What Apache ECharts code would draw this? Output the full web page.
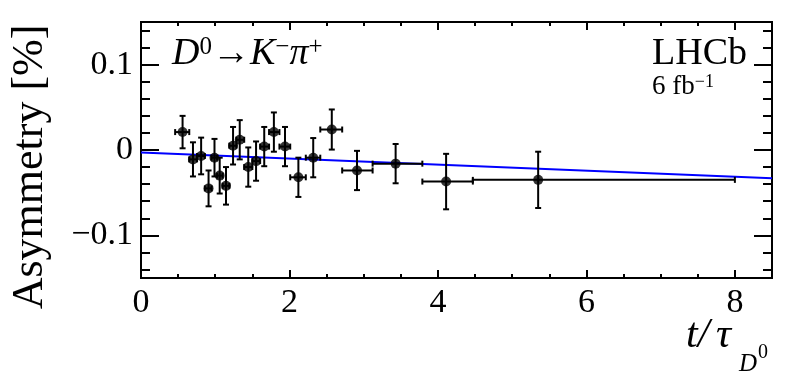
<!DOCTYPE html>
<html>
<head>
<meta charset="utf-8">
<script src="https://cdn.jsdelivr.net/npm/echarts@6/dist/echarts.min.js"></script>
<style>
html,body{margin:0;padding:0;background:#fff;}
#chart{width:796px;height:372px;}
</style>
</head>
<body>
<div id="chart"></div>
<script>
// ---- data ----
const tVals   = [0.56, 0.70, 0.81, 0.91, 0.99, 1.06, 1.145, 1.24, 1.33, 1.445, 1.55, 1.66, 1.79, 1.94, 2.12, 2.32, 2.57, 2.91, 3.43, 4.11, 5.35];
const tLow    = [0.46, 0.65, 0.755, 0.86, 0.95, 1.025, 1.10, 1.19, 1.285, 1.39, 1.50, 1.605, 1.725, 1.865, 2.01, 2.22, 2.415, 2.71, 3.12, 3.79, 4.47];
const tHigh   = [0.65, 0.755, 0.86, 0.95, 1.025, 1.10, 1.19, 1.285, 1.39, 1.50, 1.605, 1.725, 1.865, 2.01, 2.22, 2.415, 2.71, 3.12, 3.79, 4.47, 8.0];
const asymVals= [0.021, -0.011, -0.007, -0.045, -0.009, -0.030, -0.042, 0.005, 0.012, -0.020, -0.013, 0.004, 0.021, 0.004, -0.032, -0.009, 0.024, -0.024, -0.016, -0.037, -0.035];
const asymErr = [0.019, 0.020, 0.0215, 0.021, 0.022, 0.021, 0.022, 0.022, 0.023, 0.023, 0.023, 0.023, 0.023, 0.023, 0.023, 0.023, 0.0235, 0.023, 0.023, 0.0325, 0.033];
const fitLine = [[0, -0.003], [8.5, -0.033]];
const xMajorTicks = [0, 2, 4, 6, 8];
const xMinorTicks = [0.5, 1, 1.5, 2.5, 3, 3.5, 4.5, 5, 5.5, 6.5, 7, 7.5, 8.5];
const yMajorTicks = [-0.1, 0, 0.1];
const yMinorTicks = [-0.14, -0.12, -0.08, -0.06, -0.04, -0.02, 0.02, 0.04, 0.06, 0.08, 0.12, 0.14];

const FONT = 'Liberation Serif';
const chart = echarts.init(document.getElementById('chart'), null, {renderer: 'canvas'});

function xAxisDef(pos, ticks, len, labels) {
  return {
    type: 'value', position: pos, min: 0, max: 8.5, gridIndex: 0,
    axisLine: {show: true, onZero: false, lineStyle: {color: '#000', width: 2}},
    axisTick: {show: true, inside: true, length: len, customValues: ticks, lineStyle: {color: '#000', width: 2}},
    axisLabel: labels ? {show: true, customValues: xMajorTicks, color: '#000', fontFamily: FONT, fontSize: 34, margin: 8,
      formatter: v => String(v)} : {show: false},
    splitLine: {show: false}
  };
}
function yAxisDef(pos, ticks, len, labels) {
  return {
    type: 'value', position: pos, min: -0.15, max: 0.15, gridIndex: 0,
    axisLine: {show: true, onZero: false, lineStyle: {color: '#000', width: 2}},
    axisTick: {show: true, inside: true, length: len, customValues: ticks, lineStyle: {color: '#000', width: 2}},
    axisLabel: labels ? {show: true, customValues: yMajorTicks, color: '#000', fontFamily: FONT, fontSize: 34, margin: 8,
      formatter: v => (v < 0 ? '\u2212' + String(-v) : String(v))} : {show: false},
    splitLine: {show: false}
  };
}

const errData = tVals.map((t, i) => [t, asymVals[i], tLow[i], tHigh[i], asymErr[i]]);

const option = {
  animation: false,
  backgroundColor: '#fff',
  grid: {left: 141, right: 24, top: 22, bottom: 94, containLabel: false},
  xAxis: [
    xAxisDef('bottom', xMajorTicks, 8, true),
    xAxisDef('bottom', xMinorTicks, 4, false),
    xAxisDef('top', xMajorTicks, 8, false),
    xAxisDef('top', xMinorTicks, 4, false)
  ],
  yAxis: [
    yAxisDef('left', yMajorTicks, 18, true),
    yAxisDef('left', yMinorTicks, 9, false),
    yAxisDef('right', yMajorTicks, 18, false),
    yAxisDef('right', yMinorTicks, 9, false)
  ],
  series: [
    {
      type: 'line', xAxisIndex: 0, yAxisIndex: 0, data: fitLine, showSymbol: false,
      lineStyle: {color: '#0000ff', width: 2}, z: 2, silent: true
    },
    {
      type: 'custom', xAxisIndex: 0, yAxisIndex: 0, data: errData, z: 3,
      renderItem: function (params, api) {
        const x = api.value(0), y = api.value(1), xl = api.value(2), xh = api.value(3), e = api.value(4);
        const c = api.coord([x, y]);
        const pl = api.coord([xl, y]);
        const ph = api.coord([xh, y]);
        const pt = api.coord([x, y + e]);
        const pb = api.coord([x, y - e]);
        const st = {stroke: '#000', lineWidth: 2};
        const cap = 3;
        return {
          type: 'group',
          children: [
            {type: 'line', shape: {x1: pl[0], y1: c[1], x2: ph[0], y2: c[1]}, style: st},
            {type: 'line', shape: {x1: c[0], y1: pt[1], x2: c[0], y2: pb[1]}, style: st},
            {type: 'line', shape: {x1: c[0] - cap, y1: pt[1], x2: c[0] + cap, y2: pt[1]}, style: st},
            {type: 'line', shape: {x1: c[0] - cap, y1: pb[1], x2: c[0] + cap, y2: pb[1]}, style: st},
            {type: 'line', shape: {x1: pl[0], y1: c[1] - cap, x2: pl[0], y2: c[1] + cap}, style: st},
            {type: 'line', shape: {x1: ph[0], y1: c[1] - cap, x2: ph[0], y2: c[1] + cap}, style: st}
          ]
        };
      }
    },
    {
      type: 'scatter', xAxisIndex: 0, yAxisIndex: 0, z: 4,
      data: tVals.map((t, i) => [t, asymVals[i]]),
      symbol: 'circle', symbolSize: 10, itemStyle: {color: '#000'}
    }
  ],
  graphic: [
    {
      type: 'text', left: 172, top: 35,
      style: {
        text: '{i|D}{s|0}{n|\u2192}{i|K}{s|\u2212}{i|\u03c0}{s|+}',
        rich: {
          i: {fontFamily: FONT, fontStyle: 'italic', fontSize: 38, fill: '#000'},
          n: {fontFamily: FONT, fontSize: 38, fill: '#000'},
          s: {fontFamily: FONT, fontSize: 25, fill: '#000', verticalAlign: 'top'}
        }
      }
    },
    {
      type: 'text', right: 49, top: 35,
      style: {text: 'LHCb', fontFamily: FONT, fontSize: 38, fill: '#000'}
    },
    {
      type: 'text', left: 652, top: 73,
      style: {
        text: '{n|6 fb}{s|\u22121}',
        rich: {
          n: {fontFamily: FONT, fontSize: 27, fill: '#000'},
          s: {fontFamily: FONT, fontSize: 18, fill: '#000', verticalAlign: 'top'}
        }
      }
    },
    {
      type: 'text', x: 30, y: 167, rotation: Math.PI / 2,
      style: {text: 'Asymmetry [%]', fontFamily: FONT, fontSize: 44, fill: '#000', align: 'center', verticalAlign: 'middle'}
    },
    {
      type: 'text', left: 686, top: 315,
      style: {text: 't/', fontFamily: FONT, fontStyle: 'italic', fontSize: 42, fill: '#000'}
    },
    {
      type: 'text', left: 716, top: 315,
      style: {text: '\u03c4', fontFamily: FONT, fontStyle: 'italic', fontSize: 42, fill: '#000'}
    },
    {
      type: 'text', left: 739, top: 352,
      style: {text: 'D', fontFamily: FONT, fontStyle: 'italic', fontSize: 25, fill: '#000'}
    },
    {
      type: 'text', left: 758, top: 343,
      style: {text: '0', fontFamily: FONT, fontSize: 20, fill: '#000'}
    }
  ]
};
chart.setOption(option);
</script>
</body>
</html>
